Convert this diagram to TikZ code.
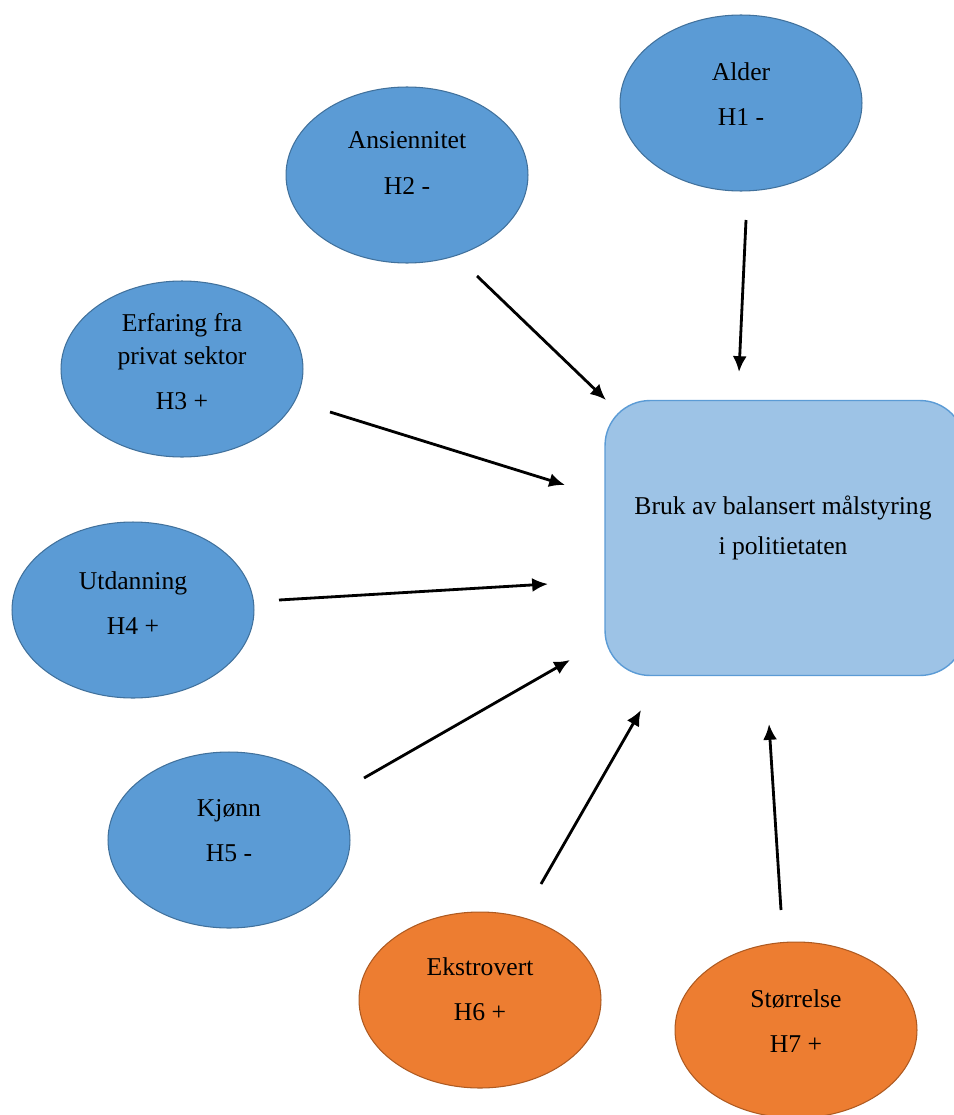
\documentclass[tikz,border=0pt]{standalone}
\usepackage{fontspec}
\setmainfont{Liberation Serif}
\usetikzlibrary{arrows.meta,shapes.geometric}

\definecolor{bubbleblue}{HTML}{5B9BD5}
\definecolor{bubbleline}{HTML}{41719C}
\definecolor{bubbleorange}{HTML}{ED7D31}
\definecolor{orangeline}{HTML}{AE5A21}
\definecolor{boxblue}{HTML}{9DC3E6}

\tikzset{
  bubble/.style={ellipse, draw=bubbleline, fill=bubbleblue, line width=0.6pt,
    minimum width=4.84cm, minimum height=3.52cm, inner sep=0pt},
  orangebubble/.style={bubble, draw=orangeline, fill=bubbleorange},
  mainbox/.style={rectangle, rounded corners=0.9cm, draw=bubbleblue, fill=boxblue,
    line width=0.8pt, minimum width=7.2cm, minimum height=5.5cm, inner sep=0pt},
  txt/.style={align=center, font=\rmfamily\fontsize{14.6}{18.7}\selectfont, inner sep=0pt},
  effect/.style={-{Latex[length=9pt,width=8pt]}, line width=1.6pt, black}
}

\begin{document}
\begin{tikzpicture}[x=0.02cm, y=-0.02cm]

	\useasboundingbox (0,0) rectangle (953,1115);

	\node[bubble] (alder) at (741,103) {};
	\node[bubble] (ansiennitet) at (407,175) {};
	\node[bubble] (erfaring) at (182,369) {};
	\node[bubble] (utdanning) at (133,610) {};
	\node[bubble] (kjonn) at (229,840) {};
	\node[orangebubble] (ekstrovert) at (480,1000) {};
	\node[orangebubble] (storrelse) at (796,1030) {};
	\node[mainbox] (bruk) at (785,538) {};

	\node[txt] (alder-t) at (741,94) {Alder\\[7pt]H1 -};
	\node[txt] (ansiennitet-t) at (407,163) {Ansiennitet\\[7pt]H2 -};
	\node[txt] (erfaring-t) at (182,362) {Erfaring fra\\privat sektor\\[7pt]H3 +};
	\node[txt] (utdanning-t) at (133,603) {Utdanning\\[7pt]H4 +};
	\node[txt] (kjonn-t) at (229,831) {Kjønn\\[7pt]H5 -};
	\node[txt] (ekstrovert-t) at (480,989) {Ekstrovert\\[7pt]H6 +};
	\node[txt] (storrelse-t) at (796,1021) {Størrelse\\[7pt]H7 +};
	\node[txt, font=\rmfamily\fontsize{14.6}{22.7}\selectfont] (bruk-t) at (783,528) {Bruk av balansert målstyring\\i politietaten};

	% free ends of the arrows
	\coordinate (a1) at (746,220);  \coordinate (b1) at (739,372);
	\coordinate (a2) at (477,276);  \coordinate (b2) at (606,400);
	\coordinate (a3) at (330,412);  \coordinate (b3) at (565,485);
	\coordinate (a4) at (279,600);  \coordinate (b4) at (548,584);
	\coordinate (a5) at (364,778);  \coordinate (b5) at (570,660);
	\coordinate (a6) at (541,884);  \coordinate (b6) at (641,710);
	\coordinate (a7) at (781,910);  \coordinate (b7) at (769,724);

	\draw[effect] (a1) -- (b1);
	\draw[effect] (a2) -- (b2);
	\draw[effect] (a3) -- (b3);
	\draw[effect] (a4) -- (b4);
	\draw[effect] (a5) -- (b5);
	\draw[effect] (a6) -- (b6);
	\draw[effect] (a7) -- (b7);

\end{tikzpicture}
\end{document}
